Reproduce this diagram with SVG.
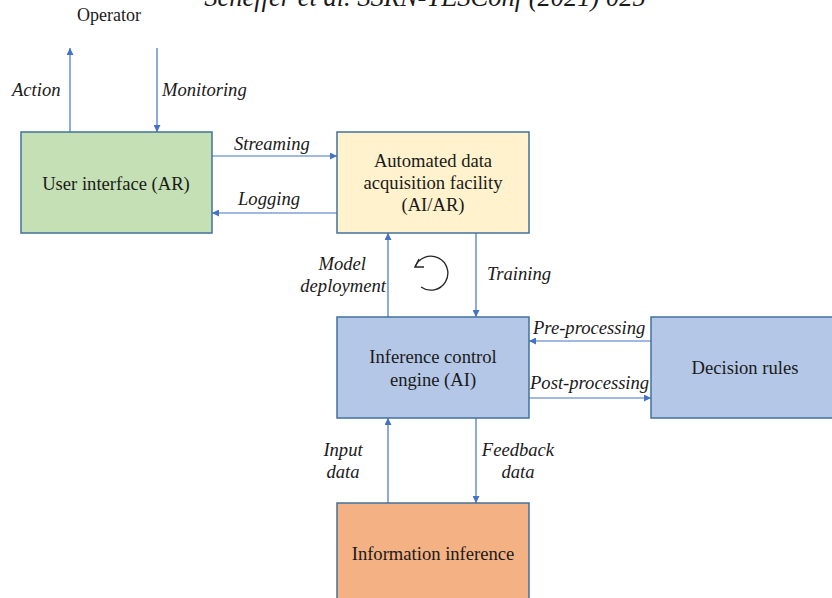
<svg xmlns="http://www.w3.org/2000/svg" width="832" height="598" viewBox="0 0 832 598">
<style>
text{font-family:'Liberation Serif','Tinos','Times New Roman','DejaVu Serif',serif;fill:#1a1a1a}
.box{stroke:#41719c;stroke-width:1.5}
.t{font-size:18.6px;text-anchor:middle}
.l{font-size:18.6px;font-style:italic}
.c{stroke:#4472c4;stroke-width:1.2;fill:none;marker-end:url(#ah)}
</style>
<defs>
<marker id="ah" viewBox="0 0 10 10" refX="10" refY="5" markerWidth="7" markerHeight="7" markerUnits="userSpaceOnUse" orient="auto">
<path d="M0,0 L10,5 L0,10 z" fill="#4472c4"/>
</marker>
</defs>
<rect width="832" height="598" fill="#ffffff"/>
<text x="425" y="6" font-size="26.5" font-style="italic" text-anchor="middle">Scheffer et al. SSRN-TESConf (2021) 025</text>
<text x="77" y="21" font-size="18">Operator</text>

<g id="connectors">
<line class="c" x1="70" y1="132" x2="70" y2="48"/>
<line class="c" x1="157" y1="48" x2="157" y2="132"/>
<line class="c" x1="212" y1="156" x2="337" y2="156"/>
<line class="c" x1="337" y1="213" x2="212" y2="213"/>
<line class="c" x1="388" y1="317" x2="388" y2="233"/>
<line class="c" x1="476" y1="233" x2="476" y2="317"/>
<line class="c" x1="651" y1="341" x2="529" y2="341"/>
<line class="c" x1="529" y1="398" x2="651" y2="398"/>
<line class="c" x1="388" y1="503" x2="388" y2="418"/>
<line class="c" x1="476" y1="418" x2="476" y2="503"/>
<text class="l" x="12" y="96">Action</text>
<text class="l" x="162" y="96">Monitoring</text>
<text class="l" x="234" y="150">Streaming</text>
<text class="l" x="238" y="205">Logging</text>
<text class="l" x="366" y="270" text-anchor="end">Model</text>
<text class="l" x="386" y="292" text-anchor="end">deployment</text>
<text class="l" x="487" y="280">Training</text>
<text class="l" x="533" y="334">Pre-processing</text>
<text class="l" x="530" y="389">Post-processing</text>
<text class="l" x="343" y="456" text-anchor="middle">Input</text>
<text class="l" x="343" y="478" text-anchor="middle">data</text>
<text class="l" x="518" y="456" text-anchor="middle">Feedback</text>
<text class="l" x="518" y="478" text-anchor="middle">data</text>
</g>

<g id="cycle" fill="none" stroke="#262626" stroke-width="1.3">
<path d="M421,287 A17,17 0 1 0 415,267"/>
<path d="M424,267 L415,267 L419,259"/>
</g>

<g id="user-interface">
<rect class="box" x="21" y="132" width="191" height="101" fill="#c5e0b4"/>
<text class="t" x="116" y="190">User interface (AR)</text>
</g>
<g id="data-acquisition">
<rect class="box" x="337" y="132" width="192" height="101" fill="#fff2cc"/>
<text class="t" x="433" y="167">Automated data</text>
<text class="t" x="433" y="189">acquisition facility</text>
<text class="t" x="433" y="211">(AI/AR)</text>
</g>
<g id="inference-engine">
<rect class="box" x="337" y="317" width="192" height="101" fill="#b4c7e7"/>
<text class="t" x="433" y="363">Inference control</text>
<text class="t" x="433" y="386">engine (AI)</text>
</g>
<g id="decision-rules">
<rect class="box" x="651" y="317" width="190" height="101" fill="#b4c7e7"/>
<text class="t" x="745" y="374">Decision rules</text>
</g>
<g id="information-inference">
<rect class="box" x="337" y="503" width="192" height="110" fill="#f4b183"/>
<text class="t" x="433" y="560">Information inference</text>
</g>
</svg>
